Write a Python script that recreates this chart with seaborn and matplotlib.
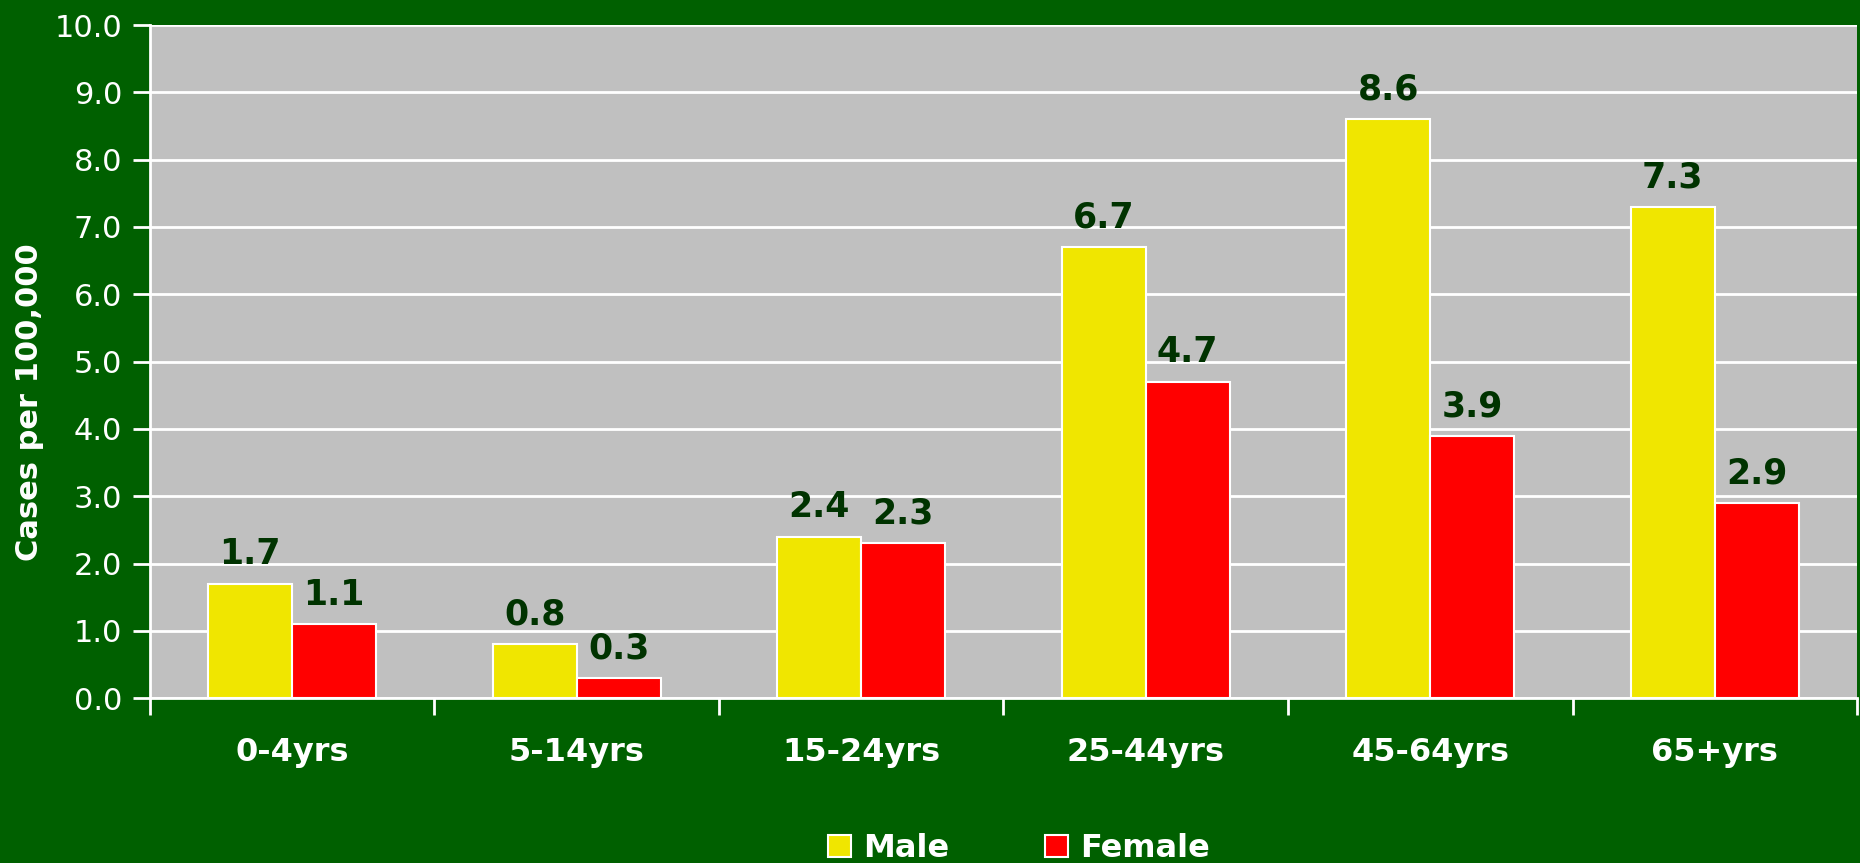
import matplotlib
matplotlib.use("Agg")
import matplotlib.pyplot as plt
import seaborn as sns
import pandas as pd

age_groups = ["0-4yrs", "5-14yrs", "15-24yrs", "25-44yrs", "45-64yrs", "65+yrs"]
male = [1.7, 0.8, 2.4, 6.7, 8.6, 7.3]
female = [1.1, 0.3, 2.3, 4.7, 3.9, 2.9]
series = ["Male", "Female"]
y_ticks = [0, 1, 2, 3, 4, 5, 6, 7, 8, 9, 10]

bg = "#006000"
colors = {"Male": "#F0E600", "Female": "#FF0000"}

df = pd.DataFrame({
    "age": age_groups * 2,
    "rate": male + female,
    "sex": ["Male"] * len(male) + ["Female"] * len(female),
})

sns.set_style("white")
plt.rcParams["font.family"] = ["DejaVu Sans"]

fig = plt.figure(figsize=(18.6, 8.63), dpi=100, facecolor=bg)
ax = fig.add_axes([0.0806, 0.191, 0.9178, 0.78])
ax.set_facecolor("#C0C0C0")

sns.barplot(data=df, x="age", y="rate", hue="sex", hue_order=series,
            order=age_groups, palette=colors, width=0.59, ax=ax,
            edgecolor="white", linewidth=1.5, saturation=1, legend=False)

for cont in ax.containers:
    ax.bar_label(cont, fmt="%.1f", padding=9, fontsize=25,
                 fontweight="bold", color="#003300")

ax.set_ylim(0, 10)
ax.set_xlim(-0.5, len(age_groups) - 0.5)
ax.set_yticks(y_ticks)
ax.set_yticklabels([f"{v:.1f}" for v in y_ticks], fontsize=22, color="white")
ax.yaxis.grid(True, color="white", linewidth=2)
ax.set_axisbelow(True)

ax.set_xticks(range(len(age_groups)))
ax.set_xticklabels(age_groups, fontsize=23, fontweight="bold", color="white")
ax.set_xticks([i - 0.5 for i in range(len(age_groups) + 1)], minor=True)
ax.tick_params(axis="x", which="major", bottom=True, length=0, pad=28)
ax.tick_params(axis="x", which="minor", bottom=True, length=12, width=2,
               color="white", direction="out")
ax.tick_params(axis="y", left=True, length=12, width=2, color="white",
               direction="out", pad=8)

for s in ["top", "right"]:
    ax.spines[s].set_visible(False)
for s in ["left", "bottom"]:
    ax.spines[s].set_color("white")
    ax.spines[s].set_linewidth(2)

ax.set_xlabel("")
ax.set_ylabel("Cases per 100,000", fontsize=22, fontweight="bold", color="white")
ax.yaxis.set_label_coords(-0.062, 0.44)

handles = [plt.Rectangle((0, 0), 1, 1, facecolor=colors[s], edgecolor="white", linewidth=1.5)
           for s in series]
leg = fig.legend(handles, series, loc="lower center", bbox_to_anchor=(0.548, -0.035), ncol=2,
                 frameon=False, fontsize=23, columnspacing=3.0, handlelength=0.7,
                 handleheight=0.7, handletextpad=0.4)
for t in leg.get_texts():
    t.set_color("white")
    t.set_fontweight("bold")

fig.savefig("out.png", dpi=100, facecolor=bg)
